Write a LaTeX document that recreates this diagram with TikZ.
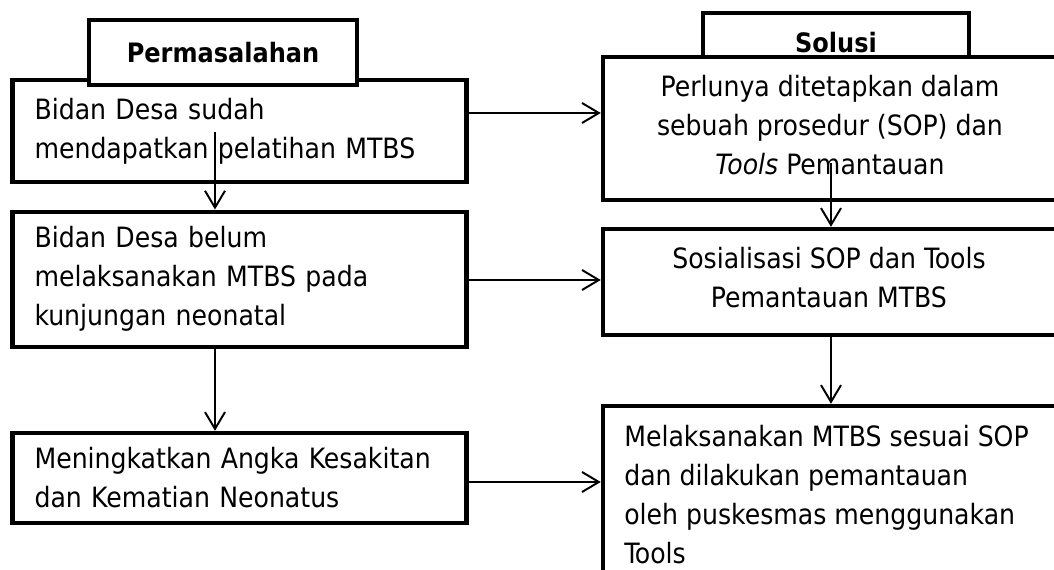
\documentclass[tikz,border=0pt]{standalone}
\usepackage{fontspec}
\setmainfont{DejaVu Sans Condensed}
\usetikzlibrary{arrows.meta,calc}

\begin{document}
\begin{tikzpicture}[
  x=0.025cm, y=-0.025cm,
  font=\fontsize{19.9}{27.7}\selectfont,
  box/.style={rectangle,draw=black,line width=3.1pt,fill=white,inner sep=0pt},
  mbox/.style={box,minimum width=11.35cm,text width=10.25cm,inner xsep=0.55cm,align=left},
  sbox/.style={box,minimum width=11.925cm},
  head/.style={box,font=\fontsize{19}{22}\selectfont\bfseries},
  stext/.style={inner sep=0pt,align=center},
  edge/.style={-{Straight Barb[length=4.2mm,width=5mm]},line width=1.4pt}
]
\useasboundingbox (0,0) rectangle (1054,570);
\fill[white] (0,0) rectangle (1054,570);
\clip (0,0) rectangle (1054,570);
% Permasalahan column
\node[mbox,minimum height=2.54cm] (M1) at (239.6,130.9)
  {Bidan Desa sudah\\mendapatkan pelatihan MTBS};
\node[mbox,minimum height=3.375cm] (M2) at (239.6,279.2)
  {Bidan Desa belum\\melaksanakan MTBS pada\\kunjungan neonatal};
\node[mbox,minimum height=2.25cm] (M3) at (239.6,478)
  {Meningkatkan Angka Kesakitan\\dan Kematian Neonatus};
\node[head,minimum width=6.7cm,minimum height=1.625cm] (Mh) at (223,52.5) {Permasalahan};
% Solusi column
\node[head,minimum width=6.65cm,minimum height=1.5cm] (Sh) at (836,43) {Solusi};
\node[sbox,minimum height=3.575cm] (S1) at (841.5,128.5) {};
\node[sbox,minimum height=2.65cm] (S2) at (841.5,282) {};
\node[sbox,minimum height=5.35cm] (S3) at (841.5,513) {};
\node[stext] (S1t) at (830,125.5)
  {Perlunya ditetapkan dalam\\sebuah prosedur (SOP) dan\\\textit{Tools} Pemantauan};
\node[stext] (S2t) at (829,277.5) {Sosialisasi SOP dan Tools\\Pemantauan MTBS};
\node[stext,align=left,anchor=west] (S3t) at (624,494.5)
  {Melaksanakan MTBS sesuai SOP\\dan dilakukan pemantauan\\oleh puskesmas menggunakan\\Tools};
% arrows
\coordinate (a1) at (215,132);
\coordinate (a2) at (831,163);
\coordinate (h1) at (0,113);
\coordinate (h2) at (0,280);
\coordinate (h3) at (0,482);
\draw[edge] (a1) -- (a1 |- M2.north);
\draw[edge] (M2.south -| a1) -- (M3.north -| a1);
\draw[edge] (a2) -- (a2 |- S2.north);
\draw[edge] (S2.south -| a2) -- (S3.north -| a2);
\draw[edge] (M1.east |- h1) -- (S1.west |- h1);
\draw[edge] (M2.east |- h2) -- (S2.west |- h2);
\draw[edge] (M3.east |- h3) -- (S3.west |- h3);
\end{tikzpicture}
\end{document}
